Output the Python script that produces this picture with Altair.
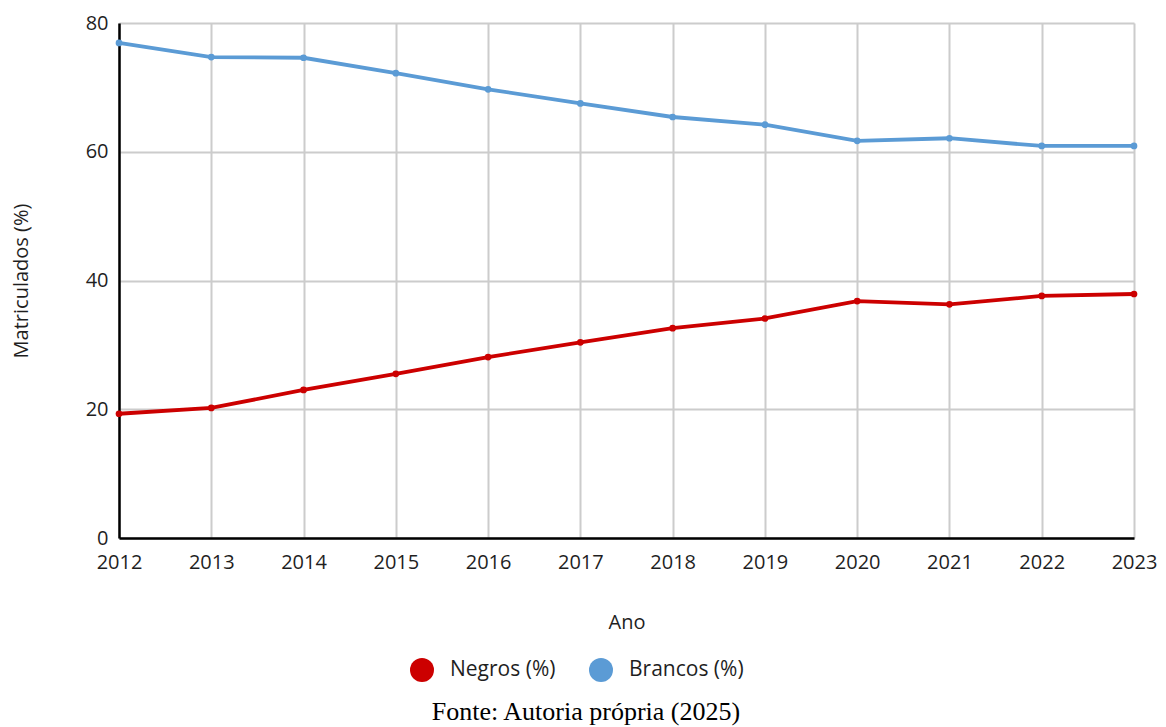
import altair as alt
import pandas as pd

anos = [2012, 2013, 2014, 2015, 2016, 2017, 2018, 2019, 2020, 2021, 2022, 2023]
negros = [19.3, 20.2, 23.0, 25.5, 28.1, 30.4, 32.6, 34.1, 36.8, 36.3, 37.6, 37.9]
brancos = [76.9, 74.7, 74.6, 72.2, 69.7, 67.5, 65.4, 64.2, 61.7, 62.1, 60.9, 60.9]
series = ["Negros (%)", "Brancos (%)"]
cores = ["#cc0000", "#5b9bd5"]
fonte = "Fonte: Autoria própria (2025)"

rows = []
for a, n, b in zip(anos, negros, brancos):
    rows.append({"Ano": a, "Serie": series[0], "Valor": n})
    rows.append({"Ano": a, "Serie": series[1], "Valor": b})
df = pd.DataFrame(rows)

FONT = "Open Sans"
TXT = "#1f1f1f"

color = alt.Color(
    "Serie:N",
    scale=alt.Scale(domain=series, range=cores),
    sort=series,
    legend=alt.Legend(
        title=None,
        orient="none",
        direction="horizontal",
        legendX=291,
        legendY=635,
        symbolType="circle",
        symbolSize=576,
        symbolStrokeWidth=0,
        labelFont=FONT,
        labelFontSize=21,
        labelColor=TXT,
        labelOffset=16,
        columnPadding=33,
    ),
)

x = alt.X(
    "Ano:Q",
    scale=alt.Scale(domain=[2012, 2023], nice=False, zero=False),
    axis=alt.Axis(
        title="Ano",
        values=anos,
        format="d",
        labelFlush=False,
        ticks=False,
        domainColor="#000000",
        domainWidth=2.5,
        gridColor="#cccccc",
        gridWidth=2,
        labelPadding=14,
        titlePadding=40,
    ),
)
y = alt.Y(
    "Valor:Q",
    scale=alt.Scale(domain=[0, 80], nice=False),
    axis=alt.Axis(
        title="Matriculados (%)",
        values=[0, 20, 40, 60, 80],
        ticks=False,
        domainColor="#000000",
        domainWidth=2.5,
        gridColor="#cccccc",
        gridWidth=2,
        labelPadding=11,
        titlePadding=54,
    ),
)

lines = alt.Chart(df).mark_line(strokeWidth=3.8).encode(x=x, y=y, color=color, detail="Serie:N")
points = alt.Chart(df).mark_point(filled=True, size=45, opacity=1).encode(
    x="Ano:Q", y="Valor:Q", color=alt.Color("Serie:N", scale=alt.Scale(domain=series, range=cores), legend=None)
)
footer = alt.Chart(pd.DataFrame({"t": [fonte]})).mark_text(
    font="Liberation Serif", fontSize=26, color="#000000", align="center", baseline="middle"
).encode(text="t:N", x=alt.value(467), y=alt.value(689))

chart = (
    alt.layer(lines, points, footer)
    .properties(
        width=1015,
        height=515,
        padding={"left": 111, "top": 15, "right": 24, "bottom": 189},
        autosize=alt.AutoSizeParams(type="none"),
    )
    .configure_view(stroke=None)
    .configure_axis(
        labelFont=FONT,
        labelFontSize=20,
        labelColor=TXT,
        titleFont=FONT,
        titleFontSize=20,
        titleFontWeight="normal",
        titleColor=TXT,
    )
)

chart.save("out.html", embed_options={"renderer": "svg", "actions": False})
